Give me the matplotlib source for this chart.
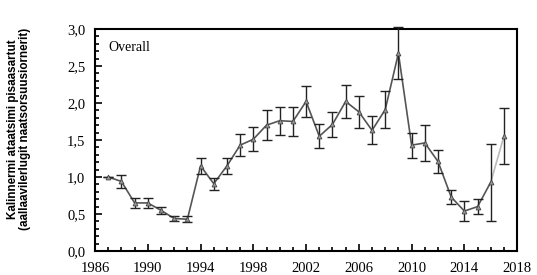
import matplotlib
matplotlib.use("Agg")
import matplotlib.pyplot as plt
from matplotlib.ticker import MultipleLocator, FixedLocator, FuncFormatter

years = list(range(1987, 2018))
values = [1.00, 0.94, 0.65, 0.65, 0.55, 0.44, 0.43, 1.15, 0.91, 1.15, 1.43,
          1.51, 1.70, 1.76, 1.75, 2.02, 1.55, 1.71, 2.02, 1.88, 1.63, 1.91,
          2.67, 1.43, 1.46, 1.21, 0.73, 0.54, 0.60, 0.93, 1.55]
errors = [0.0, 0.09, 0.07, 0.07, 0.05, 0.04, 0.04, 0.11, 0.08, 0.11, 0.15,
          0.16, 0.20, 0.19, 0.19, 0.21, 0.16, 0.17, 0.22, 0.22, 0.19, 0.25,
          0.35, 0.17, 0.24, 0.16, 0.10, 0.13, 0.10, 0.52, 0.38]
xticks = list(range(1986, 2019, 4))

fig = plt.figure(figsize=(5.37, 2.75), dpi=100)
ax = fig.add_axes([0.177, 0.087, 0.786, 0.808])

# main line (last segment lighter, as in the original)
ax.plot(years[:-1], values[:-1], color="#555555", lw=1.2, zorder=2)
ax.plot(years[-2:], values[-2:], color="#bbbbbb", lw=1.2, zorder=2)
ax.errorbar(years, values, yerr=errors, fmt="none", ecolor="#222222",
            elinewidth=1.0, capsize=3.5, capthick=1.0, zorder=3, clip_on=False)
ax.plot(years, values, ls="none", marker="^", ms=3.5, mfc="#999999",
        mec="#444444", mew=0.6, zorder=4)

ax.set_xlim(1986, 2018)
ax.set_ylim(0, 3.0)
ax.xaxis.set_major_locator(FixedLocator(xticks))
ax.xaxis.set_minor_locator(MultipleLocator(1))
ax.yaxis.set_major_locator(MultipleLocator(0.5))
ax.yaxis.set_minor_locator(MultipleLocator(0.1))
ax.yaxis.set_major_formatter(FuncFormatter(lambda v, p: f"{v:.1f}".replace(".", ",")))

ax.tick_params(which="both", direction="in", top=False, right=False, width=1.2)
ax.tick_params(which="major", length=5, labelsize=10.5)
ax.tick_params(which="minor", length=3)
ax.tick_params(axis="x", pad=8)
ax.tick_params(axis="y", pad=7)
for lab in ax.get_xticklabels() + ax.get_yticklabels():
    lab.set_family("Liberation Serif")
for s in ax.spines.values():
    s.set_linewidth(1.5)

ax.text(1987, 2.75, "Overall", family="Liberation Serif", fontsize=10,
        va="center", ha="left")

fig.text(0.035, 0.53, "Kalinnermi ataatsimi pisaasartut\n(aallaavilerlugit naatsorsuusiornerit)",
         rotation=90, ha="center", va="center", fontsize=8.4, fontweight="bold",
         family="Liberation Sans", linespacing=1.05)

fig.savefig("out.png", dpi=100)
